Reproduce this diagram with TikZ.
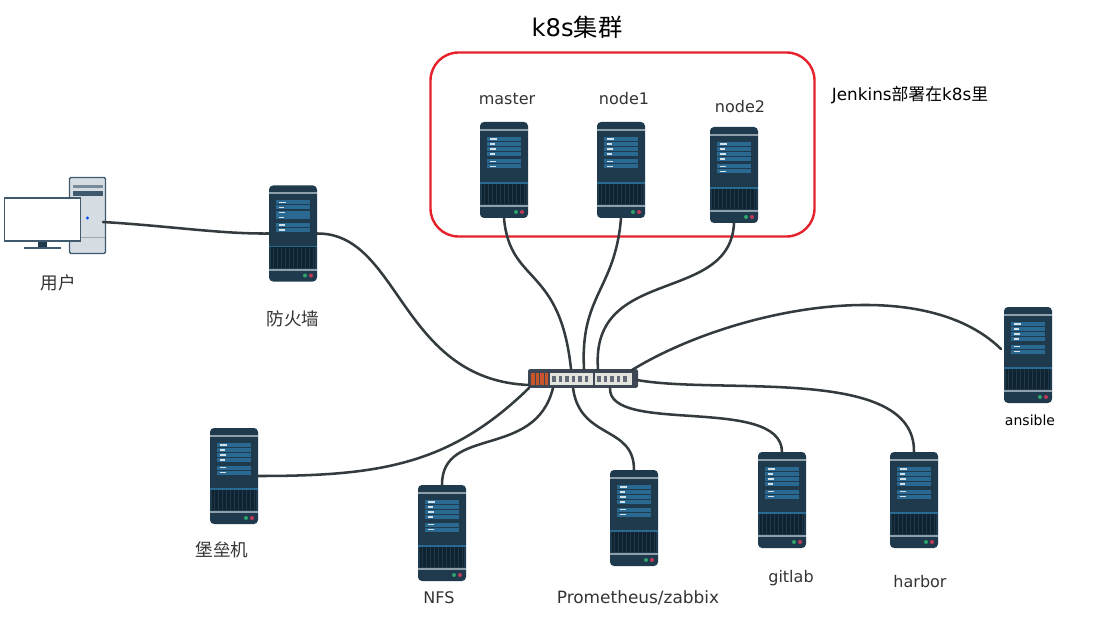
\documentclass[tikz,border=0pt]{standalone}
\usepackage{fontspec}
\setmainfont{DejaVu Sans}
\newfontfamily\cjk{Noto Sans CJK SC}
\definecolor{srvbody}{HTML}{1E3A4C}
\definecolor{srvpanel}{HTML}{2A6A92}
\definecolor{srvgrill}{HTML}{0F222F}
\definecolor{srvline}{HTML}{8FA0AA}
\definecolor{pcgrey}{HTML}{D5DCE2}
\definecolor{pcedge}{HTML}{3F5A6E}
\definecolor{wirecol}{HTML}{333B3F}
\definecolor{labelcol}{HTML}{333333}
\definecolor{k8sred}{HTML}{E5222C}
\definecolor{swbody}{HTML}{3C4654}
\definecolor{swport}{HTML}{E4E4DE}
\definecolor{sworange}{HTML}{C8552A}
\definecolor{ledgreen}{HTML}{2FA36B}
\definecolor{ledred}{HTML}{C23A58}
\tikzset{
  wire/.style={draw=wirecol,line width=1.9pt,line cap=round},
  lbl/.style={text=labelcol,font=\fontsize{12pt}{14pt}\selectfont,inner sep=0pt},
  cjklbl/.style={text=labelcol,font=\fontsize{13.2pt}{15pt}\selectfont\cjk,inner sep=0pt},
  server/.style={fill=srvbody,minimum width=36pt,minimum height=72pt,inner sep=0pt,
    rounded corners=3pt,path picture={
    \begin{scope}[shift={(path picture bounding box.center)},rounded corners=0pt]
      \fill[srvline] (-24,-41) rectangle (24,-39);
      \foreach \ry/\rw in {-31/7,-26/5,-20.8/6,-16/5,-8.5/6,-3.5/6} {
        \fill[srvpanel] (-17,\ry-2) rectangle (17,\ry+2);
        \fill[white!80!srvpanel] (-14,\ry-.8) rectangle (-14+\rw,\ry+.8);
      }
      \fill[srvgrill] (-22,13) rectangle (22,34);
      \fill[srvpanel] (-24,12.4) rectangle (24,13.6);
      \foreach \gx in {-20,-16,...,20} \fill[srvbody] (\gx-.5,14) rectangle (\gx+.5,34);
      \fill[srvline] (-24,35) rectangle (24,37);
      \fill[ledgreen] (12,42) circle (2);
      \fill[ledred] (18,42) circle (2);
    \end{scope}}},
  switchbox/.style={fill=swbody,minimum width=82.5pt,minimum height=14pt,inner sep=0pt,
    rounded corners=1.5pt,path picture={
    \begin{scope}[shift={(path picture bounding box.center)},rounded corners=0pt]
      \foreach \px in {-52,-47.5,...,-37} \fill[sworange] (\px,-6) rectangle (\px+3.5,6);
      \fill[swport] (-33,-6) rectangle (9.5,6);
      \fill[swport] (11.5,-6) rectangle (49,6);
      \foreach \px in {-31,-24.5,...,7} \fill[swbody!80] (\px,-2.5) rectangle (\px+3.5,3);
      \foreach \px in {14,20.5,...,46} \fill[swbody!80] (\px,-2.5) rectangle (\px+3.5,3);
    \end{scope}}},
  towerbox/.style={fill=pcgrey,draw=pcedge,line width=1pt,minimum width=27pt,minimum height=57pt,
    inner sep=0pt,rounded corners=1pt,path picture={
    \begin{scope}[shift={(path picture bounding box.center)},rounded corners=0pt]
      \fill[pcedge!70] (-15,-30) rectangle (15,-27);
      \fill[pcedge] (-15,-24) rectangle (15,-19);
      \fill[blue!70!cyan] (0,2.5) circle (1.6);
      \fill[gray!70] (-18,21) rectangle (18,22.5);
    \end{scope}}},
  screenbox/.style={fill=white,draw=pcedge,line width=1pt,minimum width=57pt,minimum height=32pt,inner sep=0pt}
}
\begin{document}
\begin{tikzpicture}[x=0.75pt,y=-0.75pt]
\useasboundingbox (0,0) rectangle (1096,631);

\node(title) at (577,27) {\fontsize{18.2pt}{22pt}\selectfont k8s\cjk 集群};
\node[draw=k8sred,line width=1.8pt,rounded corners=21pt,minimum width=288pt,minimum height=138pt,inner sep=0pt](cluster) at (622.5,144.5) {};
\node[lbl,text=black](jenkins) at (910,95) {\fontsize{12.6pt}{15pt}\selectfont Jenkins{\cjk 部署在}k8s{\cjk 里}};

% machines
\node[towerbox](tower) at (87.5,215.5) {};
\node[fill=srvbody,minimum width=7pt,minimum height=6pt,inner sep=0pt](stand) at (42.5,244) {};
\node[fill=pcedge,minimum width=28pt,minimum height=1.5pt,inner sep=0pt](foot) at (42.5,248) {};
\node[screenbox](screen) at (42.5,219.5) {};

\node[server](firewall) at (293,233.5) {};
\node[server](master) at (504,170) {};
\node[server](node1) at (621,170) {};
\node[server](node2) at (734,175) {};
\node[server](ansible) at (1028,355) {};
\node[server](bastion) at (234,476) {};
\node[server](nfs) at (442,533) {};
\node[server](prom) at (634,518) {};
\node[server](gitlab) at (782,500) {};
\node[server](harbor) at (914,500) {};
\node[switchbox](switch) at (583,378.5) {};

% labels
\node[cjklbl](userlabel) at (58,283) {用户};
\node[cjklbl](firewalllabel) at (293,319) {防火墙};
\node[lbl](masterlabel) at (507,99) {master};
\node[lbl](node1label) at (624,99) {node1};
\node[lbl](node2label) at (740,107) {node2};
\node[lbl,font=\fontsize{10.5pt}{13pt}\selectfont,text=black](ansiblelabel) at (1030,420) {ansible};
\node[cjklbl](bastionlabel) at (222,550) {堡垒机};
\node[lbl](nfslabel) at (439,598) {NFS};
\node[lbl,font=\fontsize{12.7pt}{15pt}\selectfont](promlabel) at (638,598) {Prometheus/zabbix};
\node[lbl](gitlablabel) at (791,578) {gitlab};
\node[lbl](harborlabel) at (920,582) {harbor};

% ports on the switch
\coordinate(pcport) at (103,222);
\coordinate(ansibleport) at (1001,349);
\coordinate(swn1) at (571,369);
\coordinate(swn2) at (584,369);
\coordinate(swn3) at (598,369);
\coordinate(swn4) at (632,370);
\coordinate(swe) at (637,380);
\coordinate(sww) at (529,385);
\coordinate(swsw) at (529,388);
\coordinate(sws1) at (553,388);
\coordinate(sws2) at (573,388);
\coordinate(sws3) at (610,388);

\draw[wire] (pcport) .. controls (170,226) and (220,234) .. (firewall.west);
\draw[wire] (firewall.east) .. controls (400,233) and (400,380) .. (sww);
\draw[wire] (master.south) .. controls (510,285) and (560,265) .. (swn1);
\draw[wire] (node1.south) .. controls (615,290) and (580,295) .. (swn2);
\draw[wire] (node2.south) .. controls (730,305) and (590,265) .. (swn3);
\draw[wire] (ansibleport) .. controls (920,270) and (730,310) .. (swn4);
\draw[wire] (swe) .. controls (720,395) and (915,365) .. (harbor.north);
\draw[wire] (sws3) .. controls (608,435) and (781,395) .. (gitlab.north);
\draw[wire] (sws2) .. controls (580,440) and (634,425) .. (prom.north);
\draw[wire] (sws1) .. controls (535,460) and (442,425) .. (nfs.north);
\draw[wire] (swsw) .. controls (450,465) and (380,476) .. (bastion.east);
\end{tikzpicture}
\end{document}
